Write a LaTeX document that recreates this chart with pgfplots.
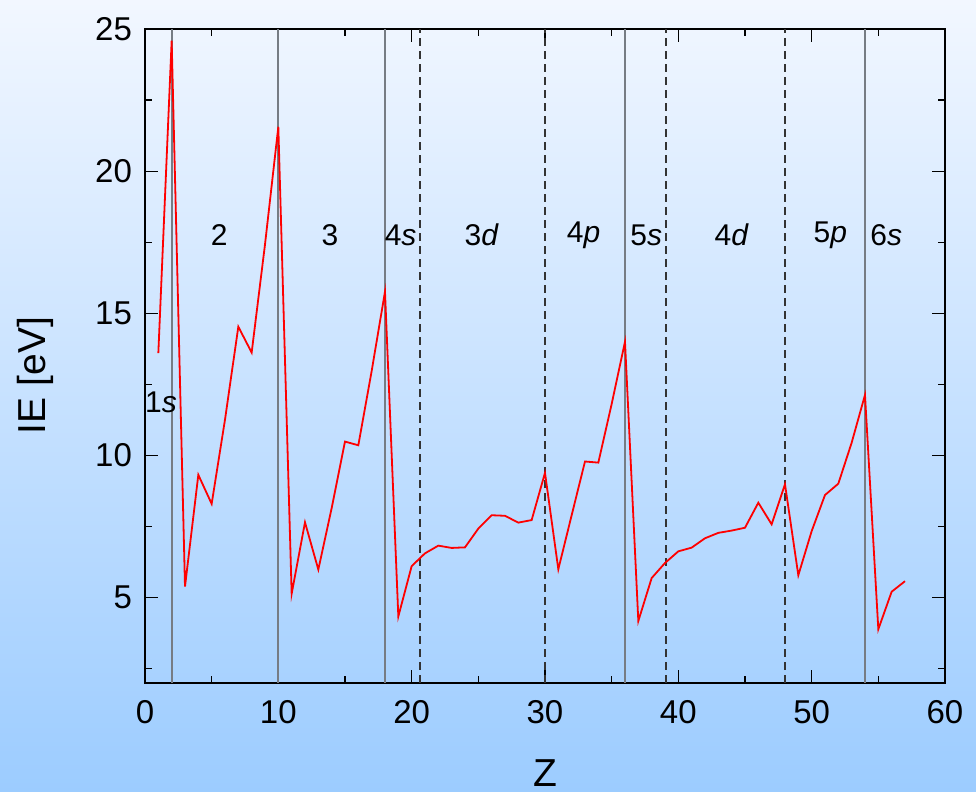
\documentclass[border=0pt]{standalone}
\usepackage{pgfplots}
\pgfplotsset{compat=1.18}
\usepackage{fontspec}
\setmainfont{Liberation Sans}
\definecolor{bgtop}{RGB}{242,247,255}
\definecolor{bgbot}{RGB}{156,204,255}
\definecolor{vgray}{RGB}{118,124,132}
\begin{document}
\begin{tikzpicture}
\shade[top color=bgtop, bottom color=bgbot] (-72.5pt,-54.5pt) rectangle (415.5pt,341.5pt);
\useasboundingbox (-72.5pt,-54.5pt) rectangle (415.5pt,341.5pt);
\begin{axis}[
  at={(0,0)}, anchor=south west,
  scale only axis, width=400pt, height=327pt,
  xmin=0, xmax=60, ymin=2, ymax=25,
  xtick={0,10,...,60}, ytick={5,10,...,25},
  minor xtick={5,15,...,55}, minor ytick={2.5,7.5,...,22.5},
  tick align=inside,
  major tick length=6.5pt, minor tick length=3.5pt,
  every tick/.style={black, line width=0.6pt},
  axis line style={line width=0.7pt},
  /pgf/number format/assume math mode=true,
  ticklabel style={font=\fontsize{16.5}{18}\selectfont},
  xticklabel style={yshift=-5pt},
  yticklabel style={xshift=-3pt},
  xlabel={Z}, ylabel={IE [eV]},
  label style={font=\fontsize{19.5}{22}\selectfont},
  x label style={at={(axis description cs:0.5,-0.138)}, anchor=center},
  y label style={at={(axis description cs:-0.1375,0.47)}, anchor=center},
  clip=true,
]
% shell boundaries (solid)
\addplot[vgray, line width=1pt, forget plot] coordinates {(2,2) (2,25)};
\addplot[vgray, line width=1pt, forget plot] coordinates {(10,2) (10,25)};
\addplot[vgray, line width=1pt, forget plot] coordinates {(18,2) (18,25)};
\addplot[vgray, line width=1pt, forget plot] coordinates {(36,2) (36,25)};
\addplot[vgray, line width=1pt, forget plot] coordinates {(54,2) (54,25)};
% subshell boundaries (dashed)
\addplot[black!80, line width=0.9pt, dash pattern=on 4pt off 2.5pt, forget plot] coordinates {(20.6,2) (20.6,25)};
\addplot[black!80, line width=0.9pt, dash pattern=on 4pt off 2.5pt, forget plot] coordinates {(30,2) (30,25)};
\addplot[black!80, line width=0.9pt, dash pattern=on 4pt off 2.5pt, forget plot] coordinates {(39.1,2) (39.1,25)};
\addplot[black!80, line width=0.9pt, dash pattern=on 4pt off 2.5pt, forget plot] coordinates {(48,2) (48,25)};
% ionization energies
\addplot[red, line width=0.9pt, line join=miter] coordinates {
(1,13.60) (2,24.59) (3,5.39) (4,9.32) (5,8.30) (6,11.26) (7,14.53) (8,13.62) (9,17.42) (10,21.56)
(11,5.14) (12,7.65) (13,5.99) (14,8.15) (15,10.49) (16,10.36) (17,12.97) (18,15.76)
(19,4.34) (20,6.11) (21,6.56) (22,6.83) (23,6.75) (24,6.77) (25,7.43) (26,7.90) (27,7.88) (28,7.64) (29,7.73) (30,9.39)
(31,6.00) (32,7.90) (33,9.79) (34,9.75) (35,11.81) (36,14.00)
(37,4.18) (38,5.69) (39,6.22) (40,6.63) (41,6.76) (42,7.09) (43,7.28) (44,7.36) (45,7.46) (46,8.34) (47,7.58) (48,8.99)
(49,5.79) (50,7.34) (51,8.61) (52,9.01) (53,10.45) (54,12.13)
(55,3.89) (56,5.21) (57,5.58)
};
\begin{scope}[every node/.style={font=\fontsize{15}{17}\selectfont, inner sep=0pt}]
\node at (axis cs:1.2,11.87) {1\textit{s}};
\node at (axis cs:5.57,17.75) {2};
\node at (axis cs:13.87,17.75) {3};
\node at (axis cs:19.17,17.75) {4\textit{s}};
\node at (axis cs:25.26,17.75) {3\textit{d}};
\node at (axis cs:32.9,17.75) {4\textit{p}};
\node at (axis cs:37.6,17.75) {5\textit{s}};
\node at (axis cs:44,17.75) {4\textit{d}};
\node at (axis cs:51.4,17.75) {5\textit{p}};
\node at (axis cs:55.6,17.75) {6\textit{s}};
\end{scope}
\end{axis}
\end{tikzpicture}
\end{document}
